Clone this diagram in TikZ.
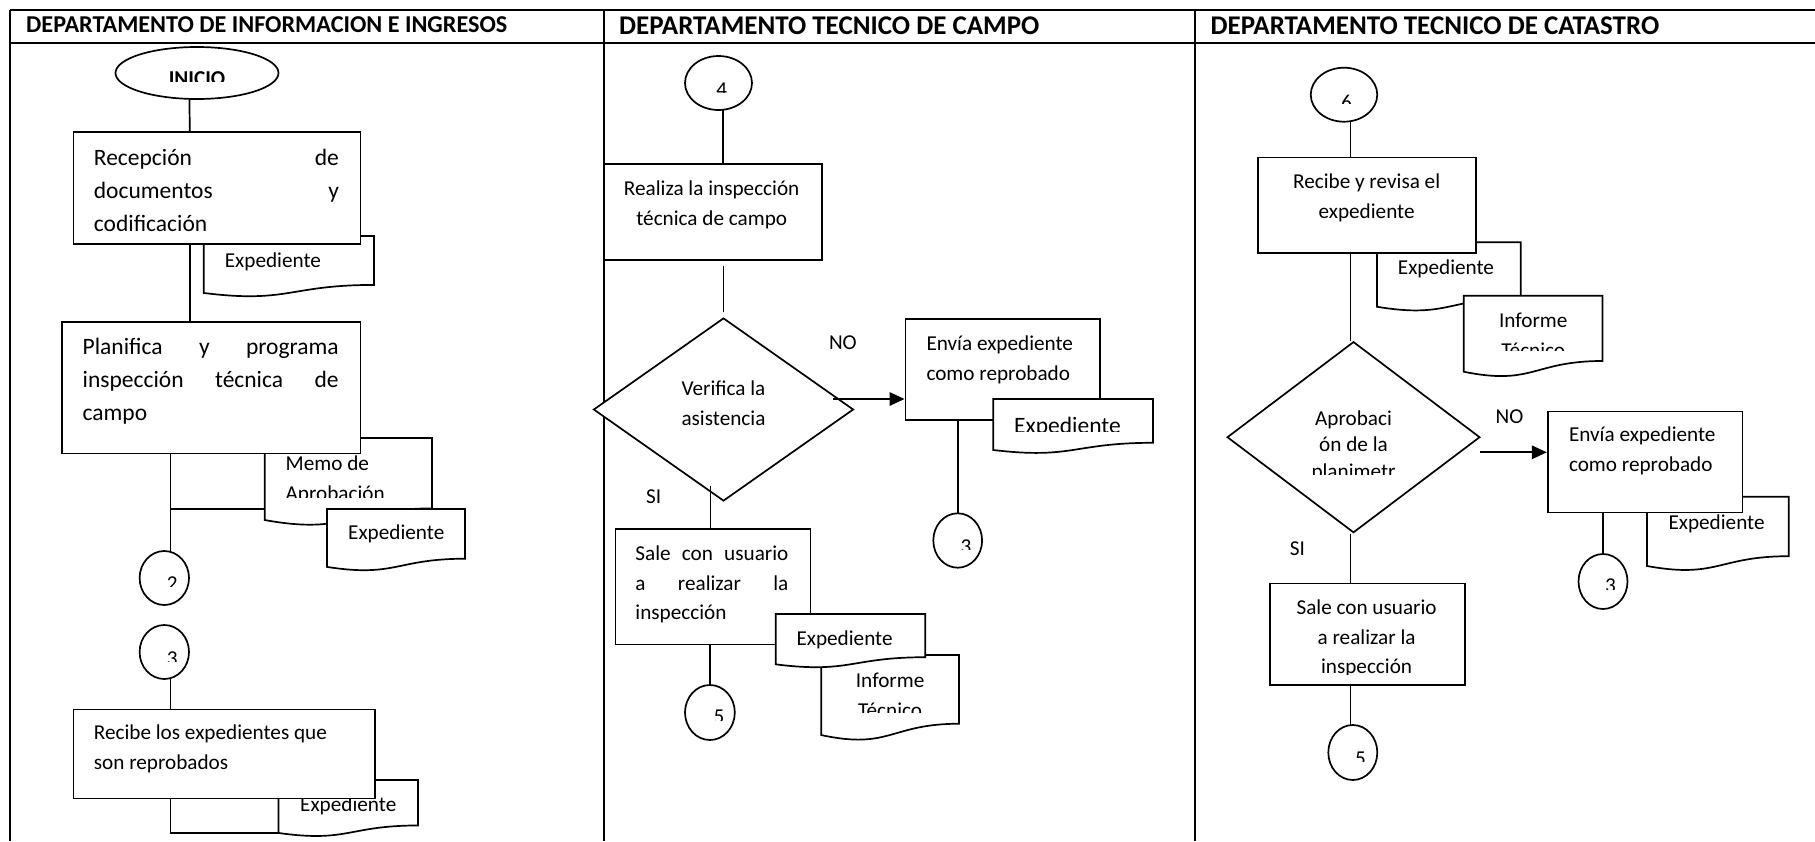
\documentclass[tikz,border=0pt]{standalone}
\usepackage{fontspec}
\setmainfont{Carlito}
\usetikzlibrary{shapes.geometric,calc,arrows.meta}
\pgfdeclarelayer{bg}
\pgfsetlayers{bg,main}
% strut fixing the height of the first line of a text block
\newcommand\ts{\rule{0pt}{20pt}}
% document symbol: name, left x, right x, top y, height
\newcommand\docshape[5]{%
  \path[shp] (#2,#4) -- (#3,#4) -- (#3,{#4+0.802*#5})
    .. controls ({(#2+#3)/2},{#4+0.802*#5}) and ({(#2+#3)/2},{#4+1.1075*#5}) .. (#2,{#4+0.934*#5}) -- cycle;
  \node[inner sep=0pt, minimum width={#3-#2}, minimum height={#5}, anchor=north west] (#1) at (#2,#4) {};
  \coordinate (#1-lb) at (#2,{#4+0.934*#5});}
\begin{document}
\begin{tikzpicture}[x=1pt, y=-1pt,
  frame/.style={line width=2.2pt},
  shp/.style={draw, fill=white, line width=1.7pt},
  proc/.style={shp, rectangle, inner sep=0pt, anchor=north west},
  conn/.style={shp, ellipse, inner sep=0pt},
  dec/.style={shp, diamond, inner sep=0pt},
  link/.style={line width=1.7pt},
  arr/.style={link, -{Triangle[length=15pt,width=13.5pt]}},
  hd/.style={inner sep=0pt, anchor=base west, font=\fontsize{27}{30}\selectfont\bfseries},
  tl/.style={inner sep=0pt, align=left, anchor=north west, font=\fontsize{21.2}{29.8}\selectfont},
  tc/.style={inner sep=0pt, align=center, anchor=north, font=\fontsize{21.2}{29.8}\selectfont},
  tb/.style={inner sep=0pt, align=left, anchor=north west, font=\fontsize{23.5}{33.3}\selectfont},
  num/.style={inner sep=0pt, anchor=base, font=\fontsize{21.2}{25}\selectfont},
  lab/.style={inner sep=0pt, anchor=base west, font=\fontsize{21.2}{25}\selectfont},
]
\useasboundingbox (0,0) rectangle (1815,841);

% ---------- table frame ----------
\begin{pgfonlayer}{bg}
\draw[frame] (10,10) -- (1815,10) (10,43) -- (1815,43);
\draw[frame] (10,10) -- (10,841) (604,10) -- (604,841) (1195,10) -- (1195,841);
\end{pgfonlayer}
\node[hd, font=\fontsize{24.2}{28}\selectfont\bfseries] (h1) at (26,32.5) {DEPARTAMENTO DE INFORMACION E INGRESOS};
\node[hd] (h2) at (619,34.5) {DEPARTAMENTO TECNICO DE CAMPO};
\node[hd] (h3) at (1210.5,34.5) {DEPARTAMENTO TECNICO DE CATASTRO};

% ---------- column 1 ----------
\node[conn, minimum width=163pt, minimum height=52pt] (ini) at (197,73) {};
\begin{scope}\clip (120,50) rectangle (275,81);
\node[num, font=\fontsize{21.2}{25}\selectfont\bfseries] (init) at (197,85.6) {INICIO};
\end{scope}

\docshape{d1}{203.7}{374}{236}{61}
\node[tl] (d1t) at (224.7,247) {\ts Expediente};
\node[proc, minimum width=287pt, minimum height=112pt] (b1) at (72.5,131) {};
\node[tb] (b1t) at (93.7,145) {\ts\makebox[245pt][s]{Recepción de}\\\makebox[245pt][s]{documentos y}\\codificación};

\docshape{d2}{264.7}{432}{438}{87.8}
\begin{scope}\clip (264.7,438) rectangle (432,497);
\node[tl] (d2t) at (285.5,450) {\ts Memo de\\Aprobación};
\end{scope}
\docshape{d3}{327}{465}{509}{62}
\node[tl] (d3t) at (348,519) {\ts Expediente};
\node[proc, minimum width=298.6pt, minimum height=131.7pt] (b2) at (61,321) {};
\node[tb] (b2t) at (82.5,334) {\ts\makebox[256pt][s]{Planifica y programa}\\\makebox[256pt][s]{inspección técnica de}\\campo};

\node[conn, minimum width=49.4pt, minimum height=54pt] (c2) at (164.3,578) {};
\begin{scope}\clip (130,550) rectangle (200,586.8);
\node[num] (c2t) at (172.3,590.5) {2};
\end{scope}
\node[conn, minimum width=49.4pt, minimum height=54pt] (c3a) at (164.3,652) {};
\begin{scope}\clip (130,620) rectangle (200,661.8);
\node[num] (c3at) at (172.3,665.2) {3};
\end{scope}

\docshape{d4}{278.5}{418}{780}{56.7}
\node[tl] (d4t) at (300,791.7) {\ts Expediente};
\node[proc, minimum width=301.5pt, minimum height=89pt] (b3) at (72.5,708.7) {};
\node[tl] (b3t) at (93.7,719) {\ts Recibe los expedientes que\\son reprobados};

\coordinate (sp1) at ($(c2.center)+(6.2,0)$);
\coordinate (sp2) at ($(c3a.center)+(6.2,0)$);
\coordinate (j1) at ($(d2.north west)+(0,71.3)$);
\begin{pgfonlayer}{bg}
\draw[link] ([xshift=-8pt]ini.center) -- ([xshift=-27pt]b1.north);
\draw[link] ([xshift=-27pt]b1.south) -- ([xshift=-27pt]b1.south |- b2.north);
\draw[link] (sp1 |- b2.south) -- (sp1);
\draw[link] (sp1 |- j1) -- (j1);
\draw[link] (sp2) -- (sp2 |- b3.north);
\draw[link] (sp2 |- b3.south) |- (d4-lb);
\end{pgfonlayer}

% ---------- column 2 ----------
\node[conn, minimum width=67pt, minimum height=54pt] (c4) at (718.5,83) {};
\begin{scope}\clip (690,60) rectangle (750,92);
\node[num] (c4t) at (721.7,96.5) {4};
\end{scope}
\node[proc, minimum width=218pt, minimum height=96pt] (b4) at (603,163) {};
\node[tc] (b4t) at (711.7,175) {\ts Realiza la inspección\\técnica de campo};

\node[dec, minimum width=260pt, minimum height=183pt] (dia1) at (723.5,409.5) {};
\node[tc] (dia1t) at (723.5,375) {\ts Verifica la\\asistencia};
\node[lab] (no1) at (828.8,349) {NO};

\node[proc, minimum width=194.8pt, minimum height=101pt] (e1) at (904.5,318.3) {};
\node[tl] (e1t) at (926.3,330.7) {\ts Envía expediente\\como reprobado};
\docshape{d5}{993.3}{1153}{399}{54.6}
\begin{scope}\clip (993.3,399) rectangle (1153,431.8);
\node[inner sep=0pt, anchor=base west, font=\fontsize{23.5}{28}\selectfont] (d5t) at (1014,433.1) {Expediente};
\end{scope}

\node[conn, minimum width=48.8pt, minimum height=54.4pt] (c3b) at (957.7,540.5) {};
\begin{scope}\clip (930,515) rectangle (990,549);
\node[num] (c3bt) at (966,553.4) {3};
\end{scope}

\node[lab] (si1) at (646,503.3) {SI};
\node[proc, minimum width=195.2pt, minimum height=115.4pt] (b5) at (614.5,528.3) {};
\node[tl] (b5t) at (635.2,540) {\ts\makebox[153pt][s]{Sale con usuario}\\\makebox[153pt][s]{a realizar la}\\inspección};
\docshape{d6}{821.2}{959}{655}{85.7}
\begin{scope}\clip (821.2,655) rectangle (959,712.5);
\node[tc] (d6t) at (890.1,667.7) {\ts Informe\\Técnico};
\end{scope}
\docshape{d7}{775.7}{925.3}{614}{53.9}
\node[tl] (d7t) at (796.3,625) {\ts Expediente};

\node[conn, minimum width=49.8pt, minimum height=55pt] (c5a) at (709.9,712.5) {};
\begin{scope}\clip (685,690) rectangle (735,720.5);
\node[num] (c5at) at (719,723.4) {5};
\end{scope}

\begin{pgfonlayer}{bg}
\draw[link] ([xshift=4.3pt]c4.center) -- ([xshift=4.3pt]c4.center |- b4.north);
\draw[link, shorten <=5pt, shorten >=5pt] (dia1.north |- b4.south) -- (dia1.north);
\draw[link] (c3b.north |- e1.south) -- (c3b.center);
\draw[link] (c5a.north |- b5.south) -- (c5a.center);
\end{pgfonlayer}
\coordinate (s1) at ($(dia1.center)+(-12.9,76.2)$);
\draw[link] (s1) -- (s1 |- b5.north);
\coordinate (a1) at ($(dia1.east)+(-21,-10.5)$);
\draw[arr] (a1) -- (a1 -| e1.west);

% ---------- column 3 ----------
\node[conn, minimum width=66.5pt, minimum height=54pt] (c6) at (1344,94.7) {};
\begin{scope}\clip (1315,70) rectangle (1375,103.7);
\node[num] (c6t) at (1346.6,109.8) {6};
\end{scope}
\docshape{d8}{1377}{1520.8}{242.3}{69}
\node[tl] (d8t) at (1397.7,254) {\ts Expediente};
\docshape{d9}{1463.8}{1602.5}{295.7}{81.4}
\begin{scope}\clip (1463.8,295.7) rectangle (1602.5,350);
\node[tc] (d9t) at (1533.2,307.3) {\ts Informe\\Técnico};
\end{scope}
\node[proc, minimum width=218.4pt, minimum height=95.6pt] (b6) at (1257,156.7) {};
\node[tc] (b6t) at (1366.6,168.3) {\ts Recibe y revisa el\\expediente};

\node[dec, minimum width=252.8pt, minimum height=191pt] (dia2) at (1353.5,437.2) {};
\begin{scope}\clip (1240,400) rectangle (1470,474);
\node[tc, font=\fontsize{21.2}{26.7}\selectfont] (dia2t) at (1353.5,405) {\ts Aprobaci\\ón de la\\planimetr};
\end{scope}
\node[lab] (no2) at (1495.5,423.3) {NO};

\docshape{d10}{1647}{1788.7}{496.7}{74.2}
\node[tl] (d10t) at (1668.3,509.3) {\ts Expediente};
\node[proc, minimum width=194.8pt, minimum height=101pt] (e2) at (1546.8,410.7) {};
\node[tl] (e2t) at (1568.8,421.7) {\ts Envía expediente\\como reprobado};

\node[conn, minimum width=49pt, minimum height=55pt] (c3c) at (1603,581.5) {};
\begin{scope}\clip (1575,555) rectangle (1630,589);
\node[num] (c3ct) at (1610.5,592.7) {3};
\end{scope}

\node[lab] (si2) at (1289.6,555) {SI};
\node[proc, minimum width=195.3pt, minimum height=101.6pt] (b7) at (1268.9,582.7) {};
\begin{scope}\clip (1268.9,582.7) rectangle (1464.2,674.5);
\node[tc] (b7t) at (1366.6,594) {\ts Sale con usuario\\a realizar la\\inspección};
\end{scope}

\node[conn, minimum width=49pt, minimum height=55pt] (c5b) at (1352.8,752.5) {};
\begin{scope}\clip (1325,725) rectangle (1380,761.2);
\node[num] (c5bt) at (1360.6,765.1) {5};
\end{scope}

\coordinate (sp3) at ($(c6.center)+(6.6,0)$);
\begin{pgfonlayer}{bg}
\draw[link] (sp3) -- (sp3 |- b6.north);
\draw[link] (sp3 |- b6.south) -- (sp3 |- dia2.north);
\draw[link] (sp3 |- dia2.south) -- (sp3 |- b7.north);
\draw[link] (sp3 |- b7.south) -- (sp3 |- c5b.center);
\draw[link] (c3c.north |- e2.south) -- (c3c.center);
\end{pgfonlayer}
\coordinate (a2) at ($(dia2.east)+(-0.8,15.1)$);
\draw[arr] (a2) -- (a2 -| e2.west);
\end{tikzpicture}
\end{document}
